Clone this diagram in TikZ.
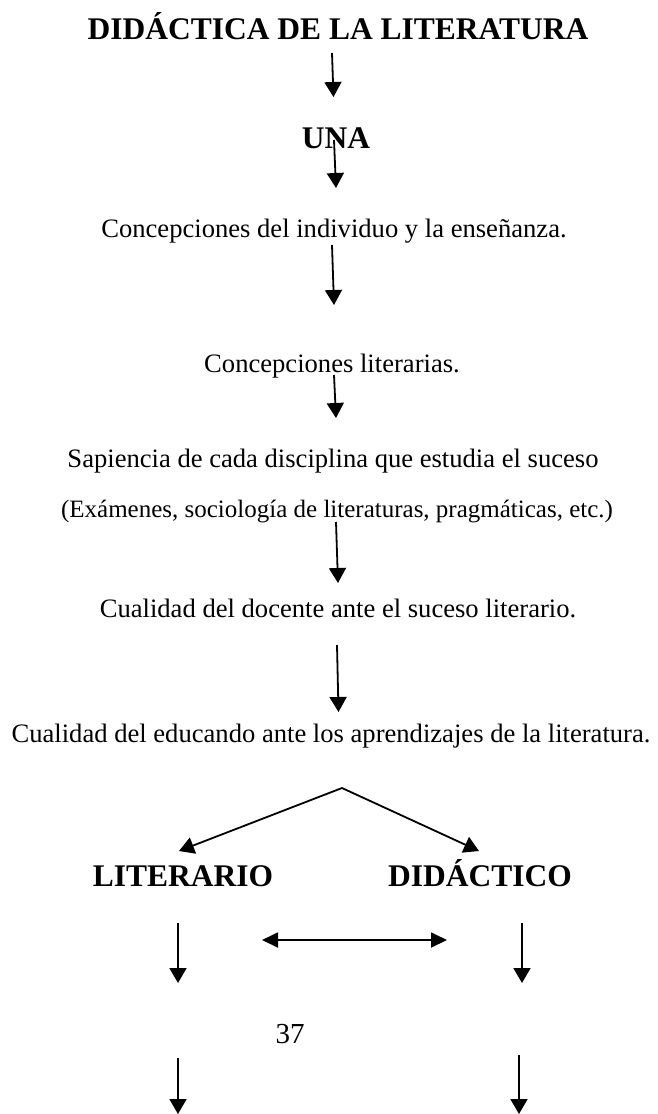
\documentclass[tikz,border=0pt]{standalone}
\usepackage{fontspec}
\setmainfont{Liberation Serif}
\usetikzlibrary{arrows.meta}
\tikzset{
  body/.style={anchor=base, inner sep=0pt, font=\fontsize{26.6}{30}\selectfont},
  smallbody/.style={anchor=base, inner sep=0pt, font=\fontsize{25}{29}\selectfont},
  bold/.style={anchor=base, inner sep=0pt, font=\fontsize{31.5}{36}\selectfont\bfseries},
  pagenum/.style={anchor=base, inner sep=0pt, font=\fontsize{29}{33}\selectfont},
  arr/.style={line width=1.8pt, -{Triangle[width=17pt,length=15pt]}},
  darr/.style={line width=1.8pt, {Triangle[width=15pt,length=16pt]}-{Triangle[width=15pt,length=16pt]}}
}
\begin{document}
\begin{tikzpicture}[x=1pt,y=-1pt]
\useasboundingbox (0,0) rectangle (657,1114);
% texts
\node[bold] (title) at (338,39.5) {DIDÁCTICA DE LA LITERATURA};
\node[bold] (una) at (336,148) {UNA};
\node[body] (t1) at (334,237) {Concepciones del individuo y la enseñanza.};
\node[body] (t2) at (332,372) {Concepciones literarias.};
\node[body] (t3) at (333,467) {Sapiencia de cada disciplina que estudia el suceso};
\node[smallbody] (t4) at (337,517) {(Exámenes, sociología de literaturas, pragmáticas, etc.)};
\node[body] (t5) at (338,617) {Cualidad del docente ante el suceso literario.};
\node[body] (t6) at (331,742) {Cualidad del educando ante los aprendizajes de la literatura.};
\node[bold] (lit) at (183,886) {LITERARIO};
\node[bold] (did) at (480,886) {DIDÁCTICO};
\node[pagenum] (pg) at (290,1043) {37};
% arrow end points
\coordinate (a1s) at (332,53);  \coordinate (a1e) at (333.5,97);
\coordinate (a2s) at (334,140); \coordinate (a2e) at (336,188);
\coordinate (a3s) at (332,245); \coordinate (a3e) at (334,305);
\coordinate (a4s) at (334,375); \coordinate (a4e) at (336,418);
\coordinate (a5s) at (336,522); \coordinate (a5e) at (338,583);
\coordinate (a6s) at (337,645); \coordinate (a6e) at (338.5,712);
\coordinate (apex) at (342,788);
\coordinate (ltip) at (179,851); \coordinate (rtip) at (479,851);
\coordinate (l1s) at (178,923); \coordinate (l1e) at (178,983);
\coordinate (r1s) at (522,923); \coordinate (r1e) at (522,983);
\coordinate (l2s) at (178,1058); \coordinate (l2e) at (178,1114);
\coordinate (r2s) at (519,1055); \coordinate (r2e) at (519,1114);
\coordinate (hl) at (262,940); \coordinate (hr) at (447,940);
% arrows
\draw[arr] (a1s) -- (a1e);
\draw[arr] (a2s) -- (a2e);
\draw[arr] (a3s) -- (a3e);
\draw[arr] (a4s) -- (a4e);
\draw[arr] (a5s) -- (a5e);
\draw[arr] (a6s) -- (a6e);
\draw[arr] (apex) -- (ltip);
\draw[arr] (apex) -- (rtip);
\draw[arr] (l1s) -- (l1e);
\draw[arr] (r1s) -- (r1e);
\draw[arr] (l2s) -- (l2e);
\draw[arr] (r2s) -- (r2e);
\draw[darr] (hl) -- (hr);
\end{tikzpicture}
\end{document}
